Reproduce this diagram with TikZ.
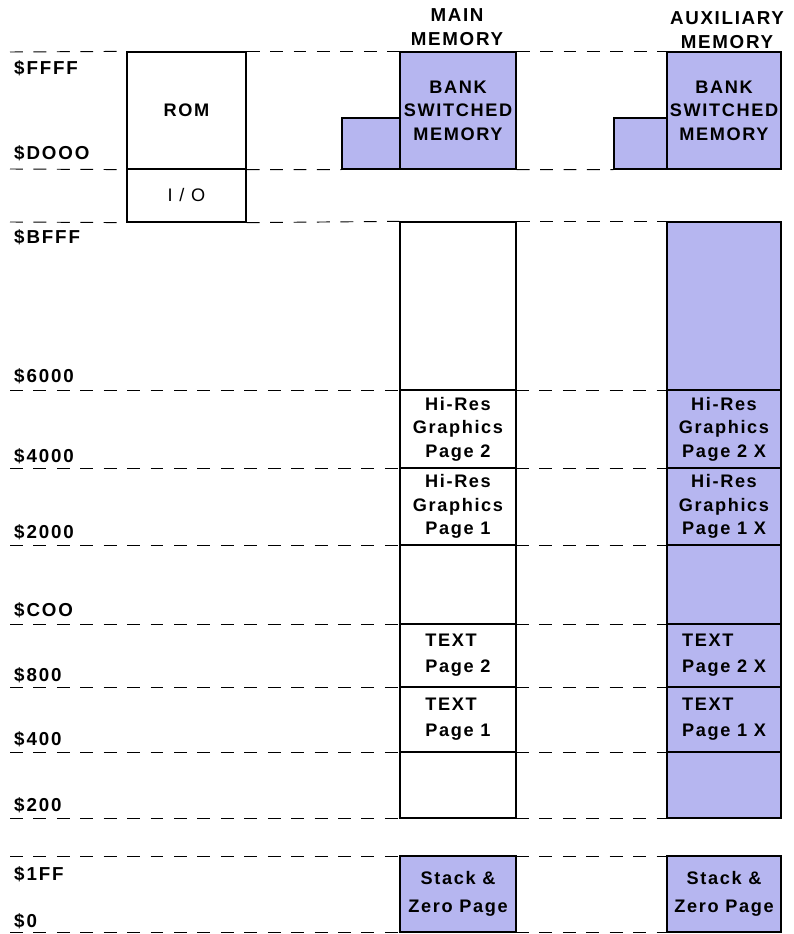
\documentclass[tikz,border=0pt]{standalone}
\usepackage{fontspec}
\setmainfont{Liberation Sans}[LetterSpace=9]
\newfontfamily\addrfont{Liberation Sans}[LetterSpace=10]
\definecolor{bankblue}{RGB}{182,182,240}
\begin{document}
\begin{tikzpicture}[x=0.03cm, y=-0.03cm,
  every node/.style={font=\bfseries\fontsize{15.5}{20}\selectfont},
  memcell/.style={draw, line width=1.1pt, inner sep=0pt, align=center},
  mainbox/.style={memcell, minimum width=3.48cm},
  auxbox/.style={memcell, fill=bankblue, minimum width=3.42cm},
  addr/.style={anchor=west, inner sep=0pt, font=\addrfont\bfseries\fontsize{16}{18}\selectfont},
  guide/.style={dash pattern=on 11pt off 9pt, line width=0.8pt}]
\useasboundingbox (0,0) rectangle (794,934);

% column headings
\node[align=center, font=\bfseries\fontsize{16}{21}\selectfont] (mainhead) at (457,27) {MAIN\\MEMORY};
\node[align=center, font=\bfseries\fontsize{16}{21}\selectfont] (auxhead) at (727,30) {AUXILIARY\\MEMORY};

% ROM and I/O
\node[memcell, minimum width=3.57cm, minimum height=3.51cm] (rom) at (186.5,110.5) {ROM};
\node[memcell, minimum width=3.57cm, minimum height=1.59cm, font=\fontsize{15.5}{20}\selectfont] (io) at (186.5,195.5) {I / O};

% bank switched memory
\node[memcell, fill=bankblue, minimum width=1.74cm, minimum height=1.53cm] (mainstep) at (371,143.5) {};
\node[mainbox, fill=bankblue, minimum height=3.51cm] (mainbank) at (458,110.5) {BANK\\SWITCHED\\MEMORY};
\node[auxbox, minimum width=1.59cm, minimum height=1.53cm] (auxstep) at (640.5,143.5) {};
\node[auxbox, minimum height=3.51cm] (auxbank) at (724,110.5) {BANK\\SWITCHED\\MEMORY};

% main memory
\node[mainbox, minimum height=5.04cm] (maintop) at (458,306) {};
\node[mainbox, minimum height=2.34cm] (mainhires2) at (458,429) {Hi-Res\\Graphics\\Page 2};
\node[mainbox, minimum height=2.31cm] (mainhires1) at (458,506.5) {Hi-Res\\Graphics\\Page 1};
\node[mainbox, minimum height=2.37cm] (mainmid) at (458,584.5) {};
\node[mainbox, minimum height=1.89cm, align=left, font=\bfseries\fontsize{15.5}{22}\selectfont] (maintext2) at (458,655.5) {TEXT\\Page 2};
\node[mainbox, minimum height=1.95cm, align=left, font=\bfseries\fontsize{15.5}{22}\selectfont] (maintext1) at (458,719.5) {TEXT\\Page 1};
\node[mainbox, minimum height=1.98cm] (mainlow) at (458,785) {};
\node[mainbox, fill=bankblue, minimum height=2.28cm, font=\bfseries\fontsize{15.5}{24}\selectfont] (mainstack) at (458,894) {Stack \&\\Zero Page};

% auxiliary memory
\node[auxbox, minimum height=5.04cm] (auxtop) at (724,306) {};
\node[auxbox, minimum height=2.34cm] (auxhires2) at (724,429) {Hi-Res\\Graphics\\Page 2 X};
\node[auxbox, minimum height=2.31cm] (auxhires1) at (724,506.5) {Hi-Res\\Graphics\\Page 1 X};
\node[auxbox, minimum height=2.37cm] (auxmid) at (724,584.5) {};
\node[auxbox, minimum height=1.89cm, align=left, font=\bfseries\fontsize{15.5}{22}\selectfont] (auxtext2) at (724,655.5) {TEXT\\Page 2 X};
\node[auxbox, minimum height=1.95cm, align=left, font=\bfseries\fontsize{15.5}{22}\selectfont] (auxtext1) at (724,719.5) {TEXT\\Page 1 X};
\node[auxbox, minimum height=1.98cm] (auxlow) at (724,785) {};
\node[auxbox, minimum height=2.28cm, font=\bfseries\fontsize{15.5}{24}\selectfont] (auxstack) at (724,894) {Stack \&\\Zero Page};

% addresses
\node[addr] (aFFFF) at (14,68) {\$FFFF};
\node[addr] (aD000) at (14,153) {\$DOOO};
\node[addr] (aBFFF) at (14,237) {\$BFFF};
\node[addr] (a6000) at (14,376) {\$6000};
\node[addr] (a4000) at (14,456) {\$4000};
\node[addr] (a2000) at (14,532) {\$2000};
\node[addr] (aC00) at (14,610) {\$COO};
\node[addr] (a800) at (14,675) {\$800};
\node[addr] (a400) at (14,739) {\$400};
\node[addr] (a200) at (14,805) {\$200};
\node[addr] (a1FF) at (14,874) {\$1FF};
\node[addr] (a0) at (14,921) {\$0};

% boundary lines
\draw[guide] (10,52) -- (rom.north west);
\draw[guide] (rom.north east) -- (mainbank.north west);
\draw[guide] (mainbank.north east) -- (auxbank.north west);
\draw[guide] (10,169) -- (rom.south west);
\draw[guide] (rom.south east) -- (mainstep.south west);
\draw[guide] (mainbank.south east) -- (auxstep.south west);
\draw[guide] (10,222) -- (io.south west);
\draw[guide] (io.south east) -- (maintop.north west);
\draw[guide] (maintop.north east) -- (auxtop.north west);
\foreach \y in {390,468,545,624,687,752,818,856,932} {
  \draw[guide] (10,\y) -- (400,\y);
  \draw[guide] (516,\y) -- (667,\y);
}
\end{tikzpicture}
\end{document}
